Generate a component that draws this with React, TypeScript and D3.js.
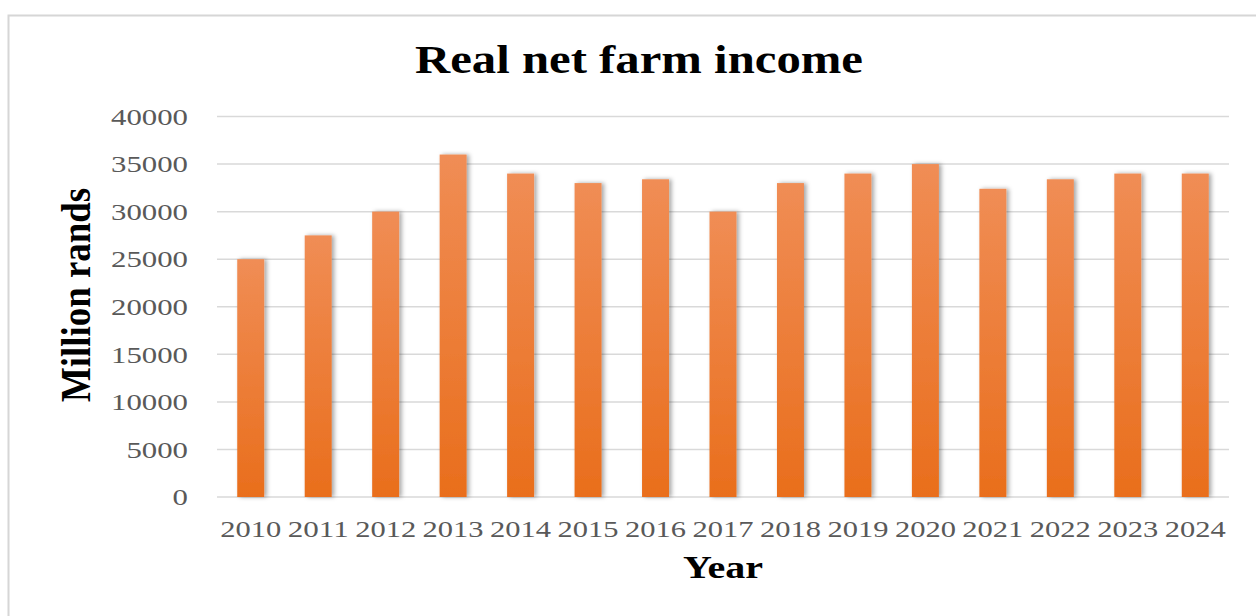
import React from "react";
import * as d3 from "d3";

const years = ["2010","2011","2012","2013","2014","2015","2016","2017","2018","2019","2020","2021","2022","2023","2024"];
const income = [25000, 27500, 30000, 36000, 34000, 33000, 33400, 30000, 33000, 34000, 35000, 32400, 33400, 34000, 34000];
const yTicks = [0, 5000, 10000, 15000, 20000, 25000, 30000, 35000, 40000];

const W = 1256, H = 616;
const SX = 1.18;

export default function App() {
  const x = d3.scaleBand<string>().domain(years).range([217, 1229]).paddingInner(0.6).paddingOuter(0.3);
  const y = d3.scaleLinear().domain([0, 40000]).range([497, 116.5]);
  const serif = "'Liberation Serif', 'Times New Roman', serif";
  return (
    <svg width={W} height={H} style={{ position: "absolute", left: 0, top: 0, background: "#fff" }}>
      <defs>
        <linearGradient id="barGrad" x1="0" y1="0" x2="0" y2="1">
          <stop offset="0%" stopColor="#F08D55" />
          <stop offset="100%" stopColor="#E96E1C" />
        </linearGradient>
        <filter id="shadow" x="-30%" y="-10%" width="170%" height="120%">
          <feDropShadow dx="2.5" dy="0" stdDeviation="2" floodColor="#000" floodOpacity="0.35" />
        </filter>
      </defs>
      <rect x={8.5} y={15.5} width={W} height={H} fill="#fff" stroke="#d6d6d6" strokeWidth={2} />
      {yTicks.map((t) => (
        <g key={t}>
          <line x1={217} x2={1229} y1={y(t)} y2={y(t)} stroke="#d9d9d9" strokeWidth={1.5} />
          <text x={188} y={y(t)} dy="0.35em" textAnchor="end" fontFamily={serif} fontSize={23.5} fill="#595959"
            textLength={String(t).length * 15.4} lengthAdjust="spacingAndGlyphs">{t}</text>
        </g>
      ))}
      {years.map((yr, i) => (
        <rect key={yr} x={x(yr)} y={y(income[i])} width={x.bandwidth()} height={y(0) - y(income[i])}
          fill="url(#barGrad)" filter="url(#shadow)" />
      ))}
      {years.map((yr) => (
        <text key={yr} x={(x(yr) as number) + x.bandwidth() / 2} y={537} textAnchor="middle" fontFamily={serif}
          fontSize={23.5} fill="#595959" textLength={61} lengthAdjust="spacingAndGlyphs">{yr}</text>
      ))}
      <text x={639} y={73} textAnchor="middle" fontFamily={serif} fontWeight="bold" fontSize={41} fill="#000"
        textLength={448} lengthAdjust="spacingAndGlyphs">Real net farm income</text>
      <text x={723} y={578} textAnchor="middle" fontFamily={serif} fontWeight="bold" fontSize={32} fill="#000"
        textLength={80} lengthAdjust="spacingAndGlyphs">Year</text>
      <g transform={`translate(90, 295) scale(${SX}, 1) rotate(-90)`}>
        <text x={0} y={0} textAnchor="middle" fontFamily={serif} fontWeight="bold" fontSize={36} fill="#000"
          textLength={214} lengthAdjust="spacingAndGlyphs">Million rands</text>
      </g>
    </svg>
  );
}
